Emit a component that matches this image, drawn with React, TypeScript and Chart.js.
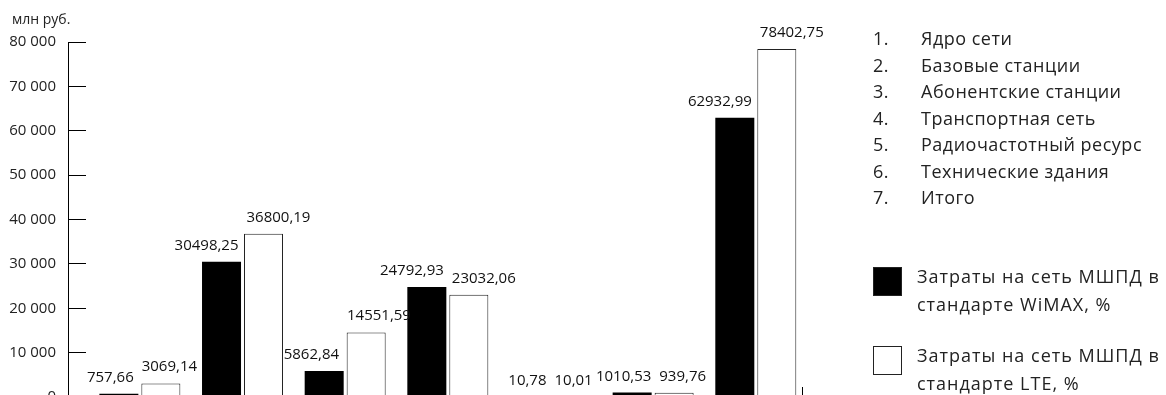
import React, { useEffect, useRef } from "react";
import { Chart, registerables } from "chart.js";

Chart.register(...registerables);

const categories = ["1", "2", "3", "4", "5", "6", "7"];
const categoryNames = [
  "Ядро сети",
  "Базовые станции",
  "Абонентские станции",
  "Транспортная сеть",
  "Радиочастотный ресурс",
  "Технические здания",
  "Итого",
];
const wimaxValues = [757.66, 30498.25, 5862.84, 24792.93, 10.78, 1010.53, 62932.99];
const lteValues = [3069.14, 36800.19, 14551.59, 23032.06, 10.01, 939.76, 78402.75];
const yTicks = [0, 10000, 20000, 30000, 40000, 50000, 60000, 70000, 80000];
const seriesLine1 = ["Затраты на сеть МШПД в", "Затраты на сеть МШПД в"];
const seriesLine2 = ["стандарте WiMAX, %", "стандарте LTE, %"];
const unitLabel = "млн руб.";

const FONT = "'Open Sans', 'DejaVu Sans', sans-serif";

const fmtValue = (v: number) => v.toFixed(2).replace(".", ",");
const fmtTick = (v: number) => String(v).replace(/\B(?=(\d{3})+(?!\d))/g, " ");

const barLabelPlugin = {
  id: "barLabels",
  afterDatasetsDraw(chart: any) {
    const ctx = chart.ctx;
    const metaA = chart.getDatasetMeta(0);
    const metaB = chart.getDatasetMeta(1);
    ctx.save();
    ctx.font = `15px ${FONT}`;
    ctx.fillStyle = "#111";
    ctx.textAlign = "center";
    ctx.textBaseline = "alphabetic";
    categories.forEach((_, i) => {
      const items = [
        { bar: metaA.data[i], v: wimaxValues[i] },
        { bar: metaB.data[i], v: lteValues[i] },
      ].map(({ bar, v }) => {
        const text = fmtValue(v);
        return { text, w: ctx.measureText(text).width, x: bar.x, y: bar.y - 12 };
      });
      const [a, b] = items;
      const gap = b.x - b.w / 2 - (a.x + a.w / 2);
      const minGap = 8;
      if (gap < minGap) {
        const s = (minGap - gap) / 2;
        a.x -= s;
        b.x += s;
      }
      items.forEach((it) => ctx.fillText(it.text, it.x, it.y));
    });
    ctx.restore();
  },
};

const axisEndPlugin = {
  id: "axisEnd",
  afterDraw(chart: any) {
    const { ctx, chartArea } = chart;
    ctx.save();
    ctx.strokeStyle = "#000";
    ctx.lineWidth = 1;
    const x = Math.round(chartArea.right) + 0.5;
    ctx.beginPath();
    ctx.moveTo(x, chartArea.bottom - 10);
    ctx.lineTo(x, chartArea.bottom);
    ctx.stroke();
    ctx.restore();
  },
};

export default function App() {
  const ref = useRef<HTMLCanvasElement | null>(null);

  useEffect(() => {
    if (!ref.current) return;
    const chart = new Chart(ref.current, {
      type: "bar",
      data: {
        datasets: [
          {
            label: seriesLine1[0] + " " + seriesLine2[0],
            data: wimaxValues.map((v, i) => ({ x: i + 1, y: v })),
            backgroundColor: "#000",
            borderColor: "#000",
            borderWidth: 0,
            categoryPercentage: 0.818,
            barPercentage: 0.929,
          },
          {
            label: seriesLine1[1] + " " + seriesLine2[1],
            data: lteValues.map((v, i) => ({ x: i + 1, y: v })),
            backgroundColor: "#fff",
            borderColor: "#222",
            borderWidth: 1,
            categoryPercentage: 0.818,
            barPercentage: 0.929,
          },
        ],
      },
      options: {
        animation: false,
        responsive: false,
        layout: { padding: { left: 0, top: 42, right: 364, bottom: 43 } },
        plugins: {
          legend: { display: false },
          tooltip: { enabled: false },
        },
        scales: {
          x: {
            type: "linear",
            display: false,
            offset: false,
            grid: { offset: false },
            min: 0.3,
            max: 7.45,
            afterBuildTicks: (s: any) => {
              s.ticks = categories.map((_, i) => ({ value: i + 1 }));
            },
          },
          y: {
            min: 0,
            max: 80000,
            afterBuildTicks: (s: any) => {
              s.ticks = yTicks.map((v) => ({ value: v }));
            },
            afterFit: (s: any) => {
              s.width = 68;
            },
            border: { display: true, color: "#000", width: 1 },
            grid: {
              drawOnChartArea: false,
              drawTicks: true,
              tickLength: -18,
              color: "#000",
              lineWidth: 1,
            },
            ticks: {
              padding: 30,
              color: "#222",
              font: { family: FONT, size: 15 },
              callback: (v: any) => fmtTick(Number(v)),
            },
          },
        },
      } as any,
      plugins: [barLabelPlugin, axisEndPlugin],
    });
    return () => chart.destroy();
  }, []);

  const textStyle: React.CSSProperties = {
    fontFamily: FONT,
    fontSize: 18,
    color: "#222",
    whiteSpace: "nowrap",
  };

  return (
    <div style={{ position: "absolute", left: 0, top: 0, width: 1166, height: 440, overflow: "hidden", background: "#fff" }}>
      <canvas ref={ref} width={1166} height={440} style={{ position: "absolute", left: 0, top: 0 }} />
      <div style={{ position: "absolute", left: 12, top: 9, fontFamily: FONT, fontSize: 14, color: "#222" }}>{unitLabel}</div>
      <div style={{ position: "absolute", left: 873, top: 25, lineHeight: "26.5px", letterSpacing: "0.5px", ...textStyle }}>
        {categoryNames.map((n, i) => (
          <div key={i} style={{ position: "relative", height: 26.5 }}>
            <span>{categories[i] + "."}</span>
            <span style={{ position: "absolute", left: 48 }}>{n}</span>
          </div>
        ))}
      </div>
      {[0, 1].map((k) => (
        <div key={k}>
          <div
            style={{
              position: "absolute",
              left: 873,
              top: k === 0 ? 267 : 346,
              width: 29,
              height: 29,
              boxSizing: "border-box",
              background: k === 0 ? "#000" : "#fff",
              border: "1px solid #222",
            }}
          />
          <div style={{ position: "absolute", left: 917, top: k === 0 ? 262 : 341, lineHeight: "28px", letterSpacing: "1px", ...textStyle }}>
            <div>{seriesLine1[k]}</div>
            <div>{seriesLine2[k]}</div>
          </div>
        </div>
      ))}
    </div>
  );
}
